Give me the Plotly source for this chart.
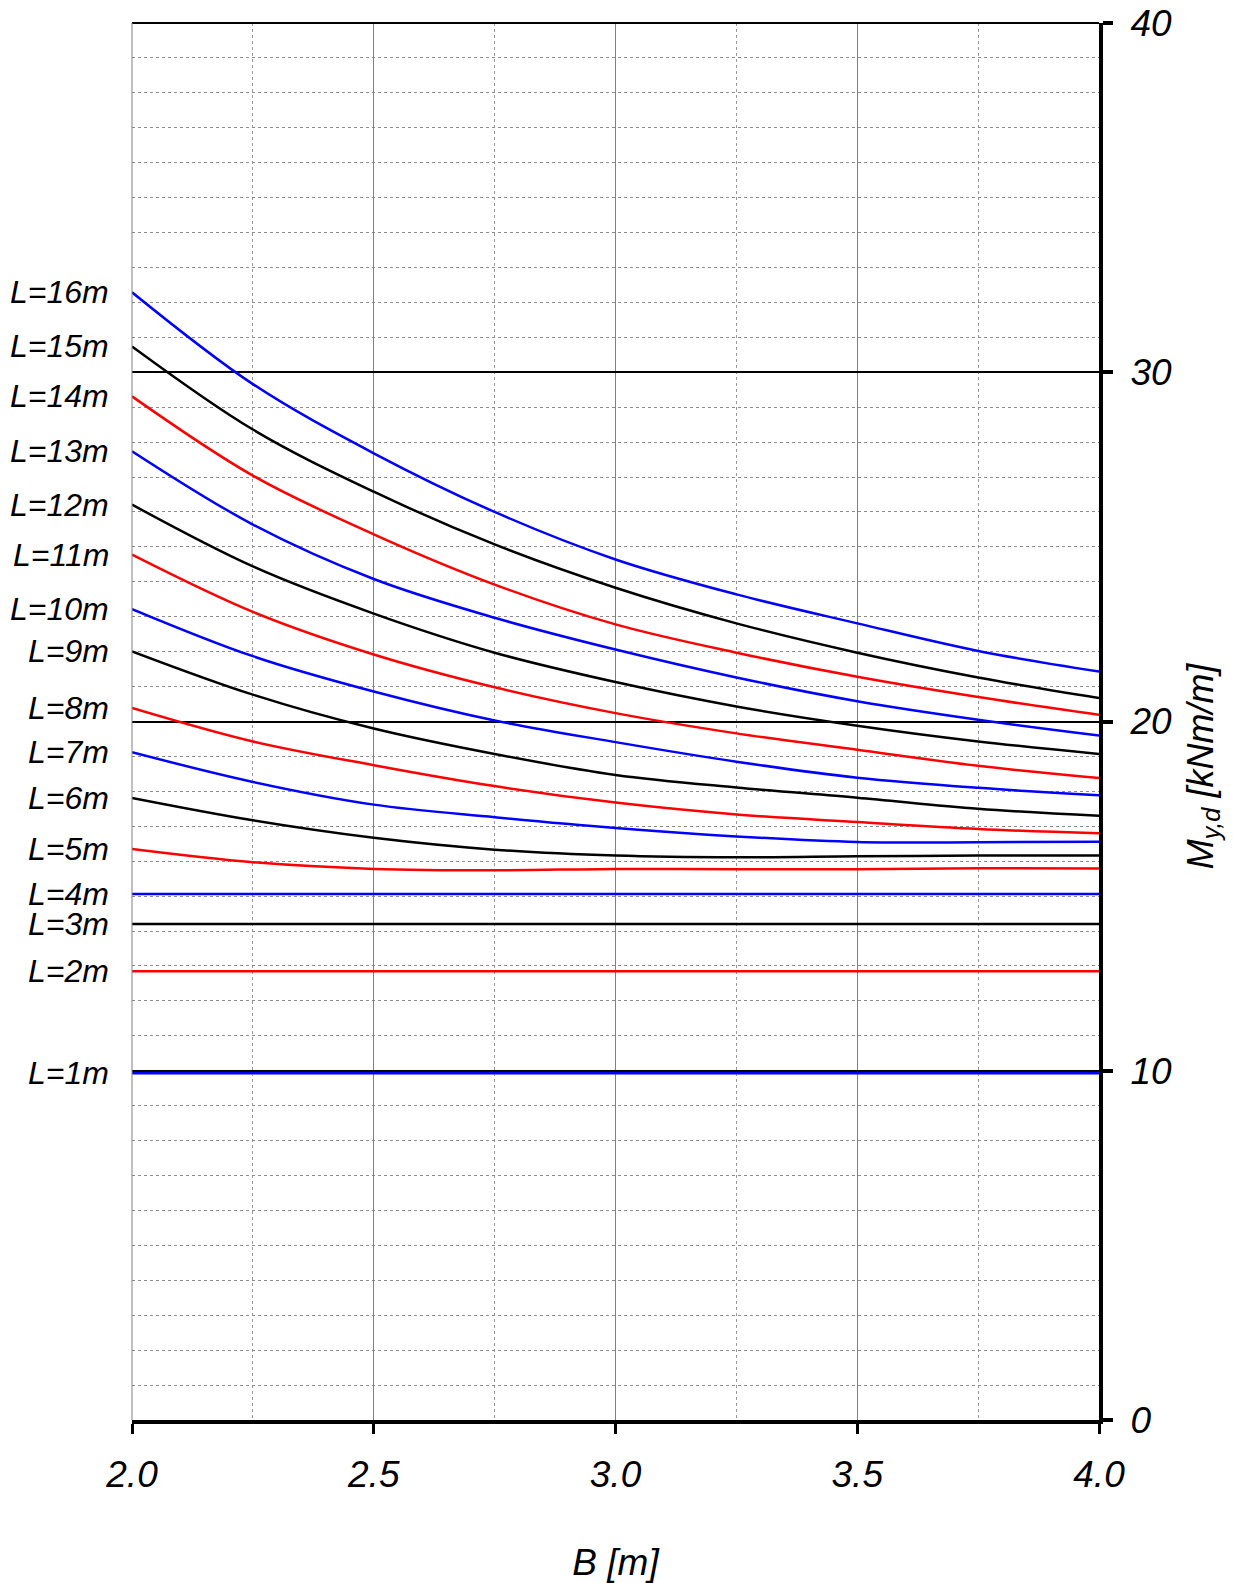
import plotly.graph_objects as go

B = [2.0, 2.25, 2.5, 2.75, 3.0, 3.25, 3.5, 3.75, 4.0]

L16 = [32.29, 29.66, 27.68, 26.00, 24.64, 23.64, 22.81, 22.02, 21.43]
L15 = [30.74, 28.36, 26.58, 25.07, 23.83, 22.81, 21.97, 21.26, 20.67]
L14 = [29.31, 27.04, 25.36, 23.92, 22.78, 21.97, 21.28, 20.70, 20.19]
L13 = [27.74, 25.64, 24.08, 22.97, 22.06, 21.26, 20.58, 20.05, 19.60]
L12 = [26.21, 24.44, 23.09, 21.97, 21.13, 20.43, 19.88, 19.43, 19.07]
L11 = [24.78, 23.14, 21.92, 20.98, 20.24, 19.66, 19.19, 18.73, 18.38]
L10 = [23.22, 21.87, 20.86, 20.03, 19.41, 18.85, 18.39, 18.10, 17.89]
L9 = [22.01, 20.77, 19.80, 19.07, 18.47, 18.11, 17.82, 17.50, 17.30]
L8 = [20.39, 19.43, 18.75, 18.15, 17.68, 17.34, 17.12, 16.92, 16.80]
L7 = [19.12, 18.27, 17.62, 17.26, 16.95, 16.71, 16.55, 16.54, 16.56]
L6 = [17.81, 17.17, 16.67, 16.33, 16.16, 16.11, 16.14, 16.16, 16.16]
L5 = [16.35, 15.97, 15.78, 15.74, 15.78, 15.77, 15.77, 15.80, 15.79]
L4 = [15.06, 15.06, 15.06, 15.06, 15.06, 15.06, 15.06, 15.06, 15.06]
L3 = [14.20, 14.20, 14.20, 14.20, 14.20, 14.20, 14.20, 14.20, 14.20]
L2 = [12.85, 12.85, 12.85, 12.85, 12.85, 12.85, 12.85, 12.85, 12.85]
L1 = [9.93, 9.93, 9.93, 9.93, 9.93, 9.93, 9.93, 9.93, 9.93]

series = [
    ("L=1m", L1, "#0000FF"),
    ("L=2m", L2, "#FF0000"),
    ("L=3m", L3, "#000000"),
    ("L=4m", L4, "#0000FF"),
    ("L=5m", L5, "#FF0000"),
    ("L=6m", L6, "#000000"),
    ("L=7m", L7, "#0000FF"),
    ("L=8m", L8, "#FF0000"),
    ("L=9m", L9, "#000000"),
    ("L=10m", L10, "#0000FF"),
    ("L=11m", L11, "#FF0000"),
    ("L=12m", L12, "#000000"),
    ("L=13m", L13, "#0000FF"),
    ("L=14m", L14, "#FF0000"),
    ("L=15m", L15, "#000000"),
    ("L=16m", L16, "#0000FF"),
]

x_ticks = [2.0, 2.5, 3.0, 3.5, 4.0]
x_ticktext = ["2.0", "2.5", "3.0", "3.5", "4.0"]
y_ticks = [0, 10, 20, 30, 40]
y_ticktext = ["0", "10", "20", "30", "40"]

FONT = "Liberation Sans, Arial, sans-serif"

fig = go.Figure()
for name, vals, col in series:
    fig.add_trace(go.Scatter(
        x=B, y=vals, mode="lines", name=name,
        line=dict(color=col, width=2.5, shape="spline", smoothing=1.0),
        showlegend=False, hoverinfo="skip",
    ))

annotations = []
for name, vals, col in series:
    annotations.append(dict(
        x=B[0], y=vals[0], xref="x", yref="y", text=name, showarrow=False,
        xanchor="right", yanchor="middle", xshift=-21,
        font=dict(family=FONT, size=32, color="black", style="italic"),
    ))

annotations.append(dict(
    x=1.1077, y=0.468, xref="paper", yref="paper",
    text="M<sub>y,d</sub> [kNm/m]", textangle=-90, showarrow=False,
    xanchor="center", yanchor="middle",
    font=dict(family=FONT, size=36, color="black", style="italic"),
))

fig.update_layout(
    width=1236, height=1583,
    margin=dict(l=132, r=137, t=23, b=163),
    paper_bgcolor="white", plot_bgcolor="white",
    xaxis=dict(
        range=[2.0, 4.0], tickvals=x_ticks, ticktext=x_ticktext,
        ticks="outside", ticklen=10, tickwidth=3, tickcolor="black",
        showline=True, linewidth=4, linecolor="black",
        showgrid=True, gridcolor="#808080", gridwidth=1,
        minor=dict(tickvals=[2.25, 2.75, 3.25, 3.75], showgrid=True,
                   gridcolor="#999999", griddash="dot", gridwidth=1),
        zeroline=False, automargin=False,
        tickfont=dict(family=FONT, size=37, color="black", style="italic"),
        ticklabelstandoff=9,
        title=dict(text="<i>B [m]</i>", font=dict(family=FONT, size=37, color="black"), standoff=57),
    ),
    yaxis=dict(
        range=[0, 40], side="right", tickvals=y_ticks, ticktext=y_ticktext,
        ticks="outside", ticklen=10, tickwidth=4, tickcolor="black",
        showline=True, linewidth=4, linecolor="black",
        showgrid=True, gridcolor="black", gridwidth=2,
        minor=dict(dtick=1, showgrid=True, gridcolor="#8c8c8c", griddash="dot", gridwidth=1),
        zeroline=False, automargin=False,
        tickfont=dict(family=FONT, size=37, color="black", style="italic"),
        ticklabelstandoff=10,
    ),
    annotations=annotations,
    shapes=[
        dict(type="line", xref="paper", yref="paper", x0=0, x1=1, y0=1, y1=1,
             line=dict(color="black", width=2)),
        dict(type="line", xref="paper", yref="paper", x0=0, x1=0, y0=0, y1=1,
             line=dict(color="#808080", width=1)),
    ],
)

fig.write_html("out.html")
